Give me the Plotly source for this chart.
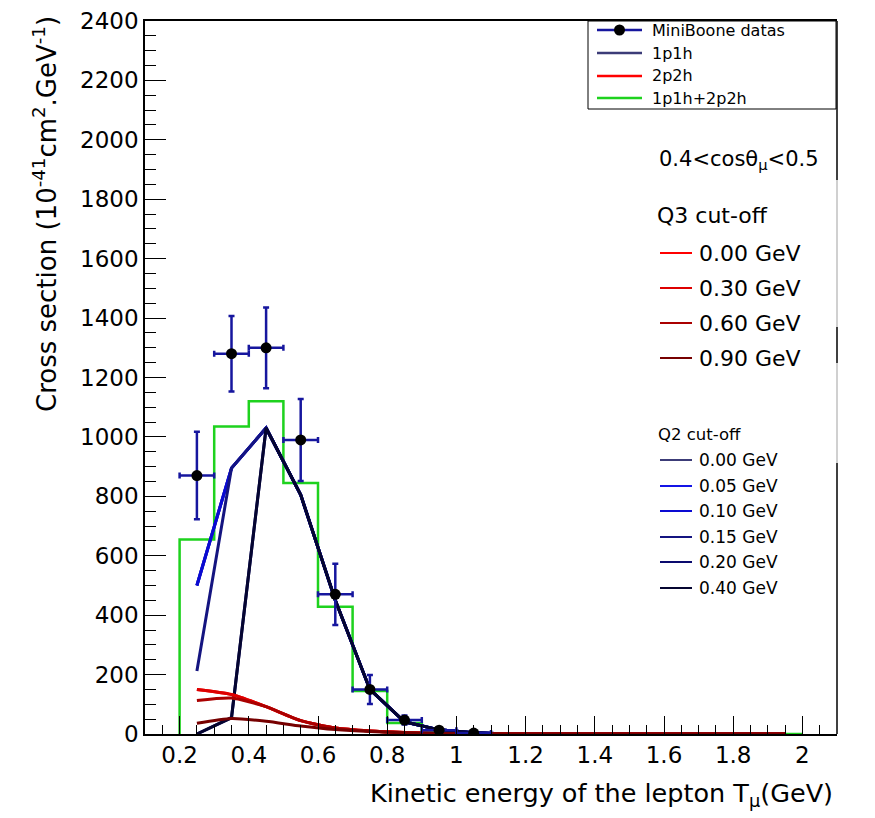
import plotly.graph_objects as go

# ---------------- data ----------------
bin_centers = [0.25, 0.35, 0.45, 0.55, 0.65, 0.75, 0.85, 0.95, 1.05, 1.15,
               1.25, 1.35, 1.45, 1.55, 1.65, 1.75, 1.85, 1.95]
bin_width = 0.1
total_1p1h_2p2h = [655, 1035, 1120, 845, 428, 145, 37, 8, 0, 0,
                   0, 0, 0, 0, 0, 0, 0, 0]

mb_T = [0.25, 0.35, 0.45, 0.55, 0.65, 0.75, 0.85, 0.95, 1.05]
mb_xsec = [870, 1280, 1300, 990, 470, 150, 47, 13, 3]
mb_yerr = [147, 127, 136, 138, 103, 49, 15, 6, 3]
mb_xerr = [0.05, 0.05, 0.05, 0.05, 0.05, 0.05, 0.05, 0.05, 0.05]

curve_T = bin_centers

q2_labels = ["0.00 GeV", "0.05 GeV", "0.10 GeV", "0.15 GeV", "0.20 GeV", "0.40 GeV"]
q2_colors = ["#3c3c78", "#1414e6", "#0a0ad2", "#141480", "#0a0a6e", "#050530"]
q2_000 = [500, 895, 1030, 805, 450, 150, 41, 14, 4, 0, 0, 0, 0, 0, 0, 0, 0, 0]
q2_005 = [500, 895, 1030, 805, 450, 150, 41, 14, 4, 0, 0, 0, 0, 0, 0, 0, 0, 0]
q2_010 = [500, 895, 1030, 805, 450, 150, 41, 14, 4, 0, 0, 0, 0, 0, 0, 0, 0, 0]
q2_015 = [212, 895, 1030, 805, 450, 150, 41, 14, 4, 0, 0, 0, 0, 0, 0, 0, 0, 0]
q2_020 = [0, 55, 1030, 805, 450, 150, 41, 14, 4, 0, 0, 0, 0, 0, 0, 0, 0, 0]
q2_040 = [0, 55, 1030, 805, 450, 150, 41, 14, 4, 0, 0, 0, 0, 0, 0, 0, 0, 0]
q2_series = [q2_000, q2_005, q2_010, q2_015, q2_020, q2_040]

q3_labels = ["0.00 GeV", "0.30 GeV", "0.60 GeV", "0.90 GeV"]
q3_colors = ["#ff0000", "#dd0000", "#aa0000", "#770000"]
q3_000 = [150, 133, 92, 45, 20, 10, 5, 2, 1, 0, 0, 0, 0, 0, 0, 0, 0, 0]
q3_030 = [150, 133, 92, 45, 20, 10, 5, 2, 1, 0, 0, 0, 0, 0, 0, 0, 0, 0]
q3_060 = [113, 121, 92, 45, 20, 10, 5, 2, 1, 0, 0, 0, 0, 0, 0, 0, 0, 0]
q3_090 = [36, 52, 43, 27, 15, 8, 4, 2, 1, 0, 0, 0, 0, 0, 0, 0, 0, 0]
q3_series = [q3_000, q3_030, q3_060, q3_090]

main_legend_labels = ["MiniBoone datas", "1p1h", "2p2h", "1p1h+2p2h"]

# ---------------- layout helpers ----------------
PAGE_W, PAGE_H = 875, 818
OFF = 8  # default page margin of the html body
L, R, T, B = 145, 837, 21, 734  # plot frame in page pixels
W, H = R - L, B - T
FONT = "DejaVu Sans"
DATA_BLUE = "#16169e"
GREEN = "#1ed21e"


def px(xp):
    return (xp - L) / W


def py(yp):
    return (B - yp) / H


fig = go.Figure()

# histogram 1p1h+2p2h (steps with edges down to zero)
edges = [c - bin_width / 2 for c in bin_centers] + [bin_centers[-1] + bin_width / 2]
hx = [edges[0]] + edges
hy = [0] + total_1p1h_2p2h + [0]
fig.add_trace(go.Scatter(x=hx, y=hy, mode="lines", line=dict(color=GREEN, width=2.5, shape="hv"),
                         hoverinfo="skip"))

# 1p1h curves for Q2 cut-offs
for ser, col in zip(q2_series, q2_colors):
    fig.add_trace(go.Scatter(x=curve_T, y=ser, mode="lines",
                             line=dict(color=col, width=3, shape="linear")))

# 2p2h curves for Q3 cut-offs
for ser, col in zip(q3_series, q3_colors):
    fig.add_trace(go.Scatter(x=curve_T, y=ser, mode="lines",
                             line=dict(color=col, width=3, shape="spline", smoothing=0.6)))

# MiniBooNE data
fig.add_trace(go.Scatter(
    x=mb_T, y=mb_xsec, mode="markers",
    marker=dict(color="black", size=11),
    error_y=dict(type="data", array=mb_yerr, color=DATA_BLUE, thickness=2.5, width=3),
    error_x=dict(type="data", array=mb_xerr, color=DATA_BLUE, thickness=2.5, width=3),
))

shapes = []
annotations = []

# right frame border (partly hidden behind legend boxes)
for y0, y1, col in [(21, 180, "black"), (180, 327, "#c0c0c0"), (327, 363, "black"),
                    (363, 463, "#c0c0c0"), (463, 734, "black")]:
    shapes.append(dict(type="line", xref="paper", yref="paper", x0=1, x1=1,
                       y0=py(y0), y1=py(y1), line=dict(color=col, width=1.5)))

# main legend box
shapes.append(dict(type="rect", xref="paper", yref="paper", x0=px(588), x1=px(836),
                   y0=py(109), y1=py(21), line=dict(color="black", width=1),
                   fillcolor="white", layer="above"))
leg_cols = [DATA_BLUE, "#3c3c78", "#ff0000", GREEN]
leg_y = [30, 53, 76, 98]
for lab, col, yy in zip(main_legend_labels, leg_cols, leg_y):
    shapes.append(dict(type="line", xref="paper", yref="paper", x0=px(597), x1=px(642),
                       y0=py(yy), y1=py(yy), line=dict(color=col, width=2.5), layer="above"))
    annotations.append(dict(text=lab, xref="paper", yref="paper", x=px(650), y=py(yy),
                            xanchor="left", yanchor="middle", showarrow=False,
                            font=dict(family=FONT, size=16, color="black")))
shapes.append(dict(type="circle", xref="paper", yref="paper", x0=px(614), x1=px(625),
                   y0=py(35.5), y1=py(24.5), fillcolor="black", line=dict(color="black", width=0),
                   layer="above"))

# angle annotation
annotations.append(dict(text="0.4&lt;cosθ<sub>μ</sub>&lt;0.5", xref="paper", yref="paper",
                        x=px(657), y=py(160), xanchor="left", yanchor="middle", showarrow=False,
                        font=dict(family=FONT, size=21, color="black")))

# Q3 legend
annotations.append(dict(text="Q3 cut-off", xref="paper", yref="paper", x=px(655), y=py(216),
                        xanchor="left", yanchor="middle", showarrow=False,
                        font=dict(family=FONT, size=22, color="black")))
for lab, col, yy in zip(q3_labels, q3_colors, [253, 288, 323, 358]):
    shapes.append(dict(type="line", xref="paper", yref="paper", x0=px(660), x1=px(692),
                       y0=py(yy), y1=py(yy), line=dict(color=col, width=2)))
    annotations.append(dict(text=lab, xref="paper", yref="paper", x=px(697), y=py(yy),
                            xanchor="left", yanchor="middle", showarrow=False,
                            font=dict(family=FONT, size=22, color="black")))

# Q2 legend
annotations.append(dict(text="Q2 cut-off", xref="paper", yref="paper", x=px(656), y=py(435),
                        xanchor="left", yanchor="middle", showarrow=False,
                        font=dict(family=FONT, size=16.5, color="black")))
for lab, col, yy in zip(q2_labels, q2_colors, [460, 486, 511, 537, 562, 588]):
    shapes.append(dict(type="line", xref="paper", yref="paper", x0=px(660), x1=px(692),
                       y0=py(yy), y1=py(yy), line=dict(color=col, width=2)))
    annotations.append(dict(text=lab, xref="paper", yref="paper", x=px(697), y=py(yy),
                            xanchor="left", yanchor="middle", showarrow=False,
                            font=dict(family=FONT, size=17, color="black")))

# axis titles
annotations.append(dict(text="Cross section (10<sup>-41</sup>cm<sup>2</sup>.GeV<sup>-1</sup>)",
                        xref="paper", yref="paper", x=px(45), y=py(14), xanchor="center",
                        yanchor="top", textangle=-90, showarrow=False,
                        font=dict(family=FONT, size=26, color="black")))
annotations.append(dict(text="Kinetic energy of the lepton T<sub>μ</sub>(GeV)",
                        xref="paper", yref="paper", x=px(835), y=py(776), xanchor="right",
                        yanchor="top", showarrow=False,
                        font=dict(family=FONT, size=25.5, color="black")))

fig.update_layout(
    width=PAGE_W - OFF, height=PAGE_H - OFF,
    margin=dict(l=L - OFF, r=PAGE_W - R, t=T - OFF, b=PAGE_H - B),
    paper_bgcolor="white", plot_bgcolor="white",
    showlegend=False,
    shapes=shapes, annotations=annotations,
    xaxis=dict(range=[0.1, 2.1], tick0=0, dtick=0.2, ticks="inside", ticklen=18, tickwidth=1,
               tickcolor="black", showline=True, linecolor="black", linewidth=1.5, mirror=True,
               showgrid=False, zeroline=False, ticklabelstandoff=0, automargin=False,
               tickfont=dict(family=FONT, size=23, color="black"),
               minor=dict(tick0=0, dtick=0.05, ticks="inside", ticklen=9, tickwidth=1,
                          tickcolor="black", showgrid=False)),
    yaxis=dict(range=[0, 2400], tick0=0, dtick=200, ticks="inside", ticklen=21, tickwidth=1,
               tickcolor="black", showline=True, linecolor="black", linewidth=1.5, mirror=False,
               showgrid=False, zeroline=False, ticklabelstandoff=0, automargin=False,
               tickfont=dict(family=FONT, size=23, color="black"),
               minor=dict(tick0=0, dtick=50, ticks="inside", ticklen=11, tickwidth=1,
                          tickcolor="black", showgrid=False)),
)

fig.write_html("out.html")
